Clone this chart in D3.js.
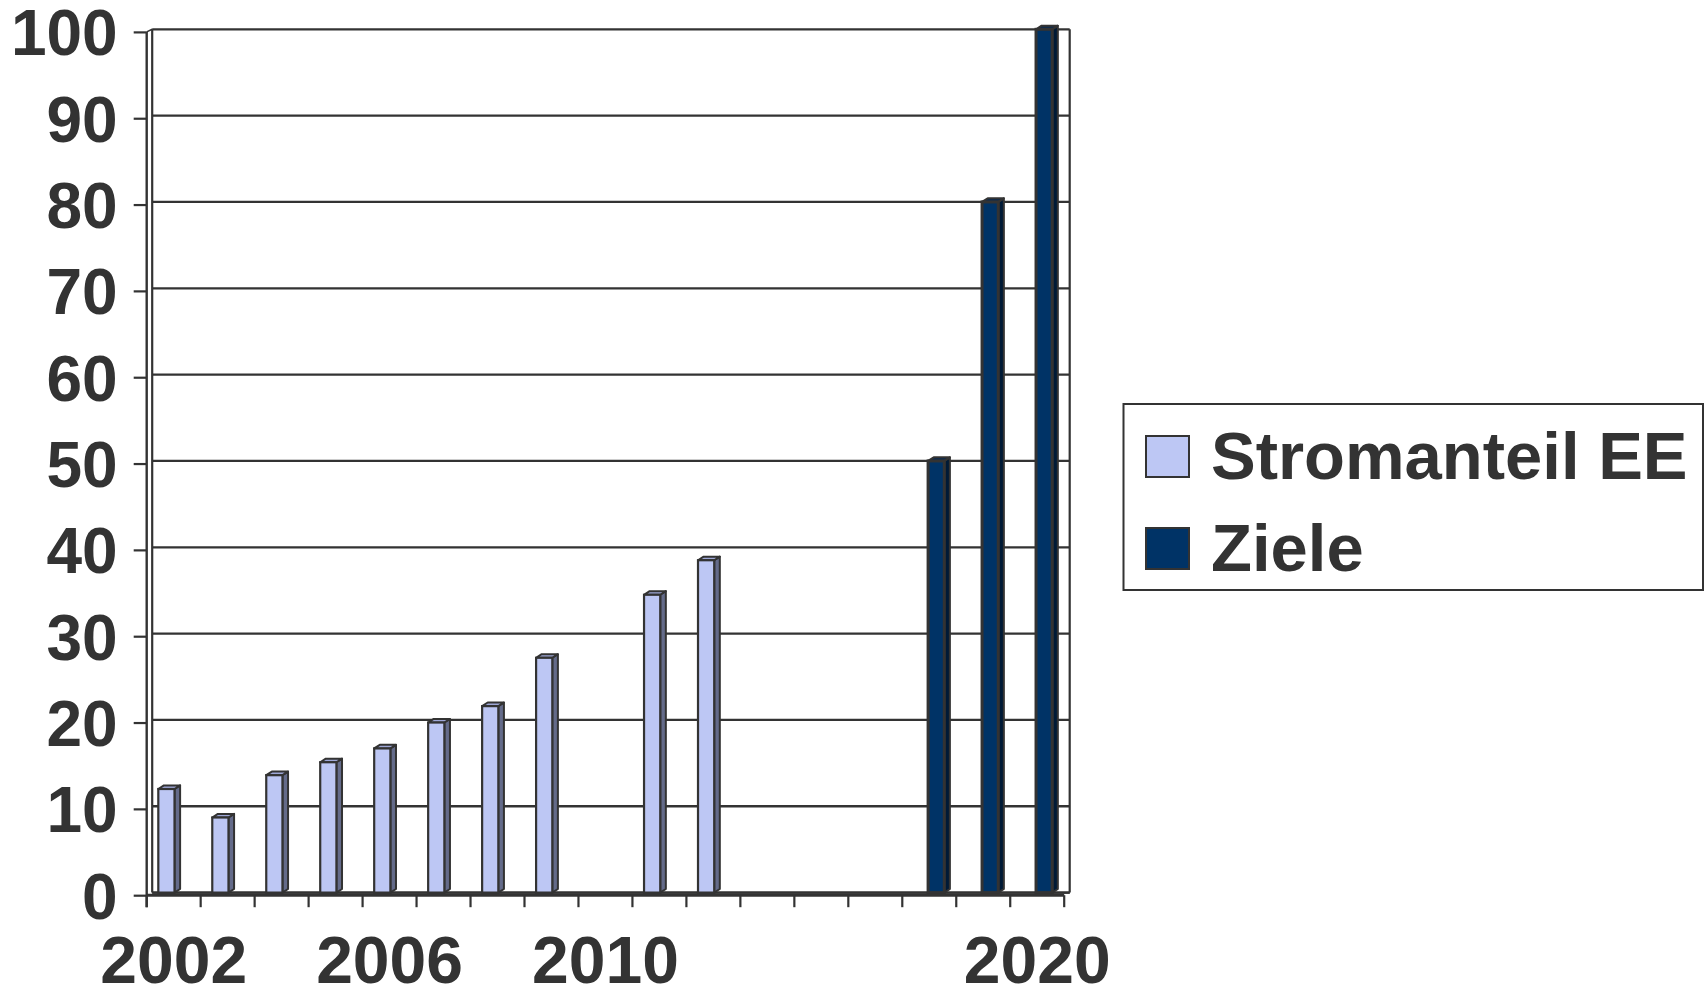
<!DOCTYPE html>
<html>
<head>
<meta charset="utf-8">
<script src="https://cdn.jsdelivr.net/npm/d3@7/dist/d3.min.js"></script>
<style>
  html, body { margin: 0; padding: 0; background: #ffffff; }
  svg { display: block; }
  text { font-family: "Liberation Sans", Arial, Helvetica, sans-serif; font-weight: bold; fill: #333333; }
</style>
</head>
<body>
<svg id="chart" width="1707" height="990"></svg>
<script>
// Category slots along the x axis (only some carry a label)
const categories = ["2002", "", "", "", "2006", "", "", "", "2010", "", "", "", "", "", "", "", "2020"];
// Share of renewable energy in electricity (%)
const stromanteil = [12.0, 8.7, 13.6, 15.1, 16.7, 19.7, 21.6, 27.2, null, 34.5, 38.5, null, null, null, null, null, null];
// Targets (%)
const ziele = [null, null, null, null, null, null, null, null, null, null, null, null, null, null, 50, 80, 100];
const yTicks = [0, 10, 20, 30, 40, 50, 60, 70, 80, 90, 100];
const seriesNames = ["Stromanteil EE", "Ziele"];

const svg = d3.select("#chart");
const ink = "#333333";

// 3D depth offsets: back wall sits up/right from the front axis plane
const depthX = 5.5, depthY = 2.6;

const x = d3.scaleBand()
  .domain(d3.range(categories.length))
  .range([146.7, 1064.2])
  .paddingInner(0).paddingOuter(0);

const y = d3.scaleLinear().domain([0, 100]).range([892.6, 29.3]);

// series position inside each category slot
const series = [
  { name: seriesNames[0], values: stromanteil, offset: 0.215, front: "#bdc7f4", side: "#646b8a", top: "#9ea7d6", sw: 2.2 },
  { name: seriesNames[1], values: ziele, offset: 0.478, front: "#003366", side: "#001a36", top: "#0b2a4f", sw: 3 }
];
const barW = 16.2, barDx = 5.6, barDy = 3.6;

const xLeftBack = x.range()[0] + depthX;
const xRightBack = x.range()[1] + depthX;

// back wall gridlines
const grid = svg.append("g");
grid.selectAll("line")
  .data(yTicks)
  .join("line")
  .attr("x1", xLeftBack).attr("x2", xRightBack)
  .attr("y1", d => y(d)).attr("y2", d => y(d))
  .attr("stroke", ink).attr("stroke-width", 2.3);

// back wall left and right edges
grid.append("line")
  .attr("x1", xLeftBack).attr("x2", xLeftBack)
  .attr("y1", y(100)).attr("y2", y(0))
  .attr("stroke", ink).attr("stroke-width", 2.2);
grid.append("line")
  .attr("x1", xRightBack).attr("x2", xRightBack)
  .attr("y1", y(100)).attr("y2", y(0))
  .attr("stroke", ink).attr("stroke-width", 2.2);

// front y axis with ticks
const yAxisG = svg.append("g")
  .attr("transform", `translate(${x.range()[0]},${depthY})`)
  .call(d3.axisLeft(y).tickValues(yTicks).tickSize(13).tickPadding(16).tickFormat(d3.format("d")));
yAxisG.select(".domain").remove();
yAxisG.selectAll(".tick line").attr("stroke", ink).attr("stroke-width", 2.2);
yAxisG.selectAll(".tick text")
  .attr("font-size", 64)
  .attr("font-family", "Liberation Sans, Arial, sans-serif")
  .attr("font-weight", "bold")
  .attr("fill", ink)
  .attr("dy", "0.36em");

// front axis line and small connector to the back wall corner
svg.append("line")
  .attr("x1", x.range()[0]).attr("x2", x.range()[0])
  .attr("y1", y(100) + depthY).attr("y2", y(0) + depthY + 12)
  .attr("stroke", ink).attr("stroke-width", 2.4);
svg.append("line")
  .attr("x1", x.range()[0]).attr("x2", xLeftBack)
  .attr("y1", y(100) + depthY).attr("y2", y(100))
  .attr("stroke", ink).attr("stroke-width", 1.5);

// floor back edge
svg.append("line")
  .attr("x1", xLeftBack).attr("x2", xRightBack)
  .attr("y1", y(0)).attr("y2", y(0))
  .attr("stroke", ink).attr("stroke-width", 2.4);

// bars drawn as simple 3D columns
const barsG = svg.append("g");
series.forEach(s => {
  const pts = s.values.map((v, i) => ({ v, i })).filter(d => d.v != null);
  const g = barsG.append("g");
  const col = g.selectAll("g").data(pts).join("g");
  const bx = d => x(d.i) + x.bandwidth() * s.offset;
  col.append("path")
    .attr("d", d => {
      const x0 = bx(d) + barW, yt = y(d.v), yb = y(0);
      return `M${x0},${yt}L${x0 + barDx},${yt - barDy}L${x0 + barDx},${yb - barDy}L${x0},${yb}Z`;
    })
    .attr("fill", s.side).attr("stroke", ink).attr("stroke-width", 2).attr("stroke-linejoin", "round");
  col.append("path")
    .attr("d", d => {
      const x0 = bx(d), yt = y(d.v);
      return `M${x0},${yt}L${x0 + barDx},${yt - barDy}L${x0 + barW + barDx},${yt - barDy}L${x0 + barW},${yt}Z`;
    })
    .attr("fill", s.top).attr("stroke", ink).attr("stroke-width", 2).attr("stroke-linejoin", "round");
  col.append("rect")
    .attr("x", d => bx(d))
    .attr("y", d => y(d.v))
    .attr("width", barW)
    .attr("height", d => y(0) - y(d.v))
    .attr("fill", s.front).attr("stroke", ink).attr("stroke-width", s.sw);
});

// front floor edge with category ticks
const xAxisG = svg.append("g")
  .attr("transform", `translate(0,${y(0) + depthY})`);
xAxisG.append("line")
  .attr("x1", x.range()[0]).attr("x2", x.range()[1])
  .attr("y1", 0).attr("y2", 0)
  .attr("stroke", ink).attr("stroke-width", 3);
const boundaries = d3.range(categories.length + 1).map(i => x.range()[0] + i * x.step());
xAxisG.selectAll("line.tk")
  .data(boundaries)
  .join("line").attr("class", "tk")
  .attr("x1", d => d).attr("x2", d => d)
  .attr("y1", 0).attr("y2", 12)
  .attr("stroke", ink).attr("stroke-width", 2.2);
xAxisG.selectAll("text")
  .data(categories.map((c, i) => ({ c, i })).filter(d => d.c !== ""))
  .join("text")
  .attr("x", d => x(d.i) + x.bandwidth() / 2)
  .attr("y", 88)
  .attr("text-anchor", "middle")
  .attr("font-size", 66)
  .text(d => d.c);

// legend
const legend = svg.append("g");
legend.append("rect")
  .attr("x", 1123.5).attr("y", 404).attr("width", 579.5).attr("height", 186)
  .attr("fill", "#ffffff").attr("stroke", ink).attr("stroke-width", 2);
const items = legend.selectAll("g.item")
  .data(series)
  .join("g").attr("class", "item")
  .attr("transform", (d, i) => `translate(1146,${436 + i * 92})`);
items.append("rect")
  .attr("width", 43).attr("height", 41)
  .attr("fill", d => d.front).attr("stroke", ink).attr("stroke-width", 2);
items.append("text")
  .attr("x", 65).attr("y", 43)
  .attr("font-size", 67)
  .text(d => d.name);
</script>
</body>
</html>
